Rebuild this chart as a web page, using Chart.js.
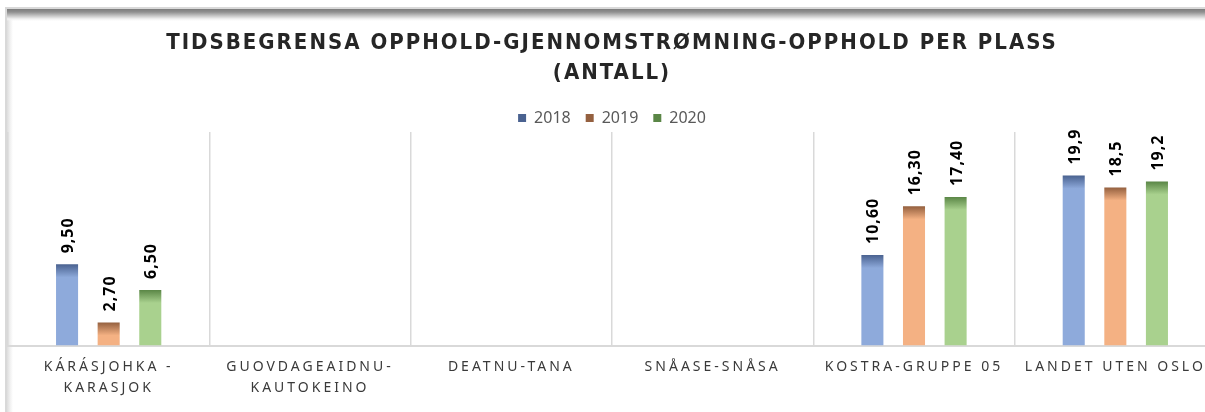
<!DOCTYPE html>
<html>
<head>
<meta charset="utf-8">
<script src="https://cdn.jsdelivr.net/npm/chart.js@4.4.0/dist/chart.umd.min.js"></script>
<style>
  html, body { margin: 0; padding: 0; background: #fff; }
  body { width: 1205px; height: 412px; overflow: hidden; position: relative; }
  #frame {
    position: absolute; left: 5px; top: 7px; width: 1260px; height: 460px;
    border-top: 2px solid #d9d9d9; border-left: 2px solid #d9d9d9;
    background:
      linear-gradient(to bottom, #7d7d7d 0, #8f8f8f 3px, #c8c8c8 7px, #f2f2f2 10px, rgba(255,255,255,0) 12px) left top / 100% 12px no-repeat,
      linear-gradient(to right, #dddddd 0, #f0f0f0 3px, rgba(255,255,255,0) 6px) left top / 7px 100% no-repeat;
  }
  #chart { position: absolute; left: 0; top: 0; }
</style>
</head>
<body>
<div id="frame"></div>
<canvas id="chart" width="1222" height="412"></canvas>
<script>
(function() {
  'use strict';
  // categories (municipalities)
  const categories = [
    ['KÁRÁSJOHKA -', 'KARASJOK'],
    ['GUOVDAGEAIDNU-', 'KAUTOKEINO'],
    'DEATNU-TANA',
    'SNÅASE-SNÅSA',
    'KOSTRA-GRUPPE 05',
    'LANDET UTEN OSLO'
  ];
  // series values per year
  const years = ['2018', '2019', '2020'];
  const values2018 = [9.5, null, null, null, 10.6, 19.9];
  const values2019 = [2.7, null, null, null, 16.3, 18.5];
  const values2020 = [6.5, null, null, null, 17.4, 19.2];
  // decimals shown in the value labels per category
  const labelDecimals = [2, 2, 2, 2, 2, 1];
  const titleLines = ['TIDSBEGRENSA OPPHOLD-GJENNOMSTRØMNING-OPPHOLD PER PLASS', '(ANTALL)'];

  // bar colours: light body, dark top edge
  const lightColors = ['#8eaadb', '#f4b183', '#a9d18e'];
  const darkColors = ['#4a6290', '#94603f', '#5a8646'];

  const ctx = document.getElementById('chart').getContext('2d');

  // vertical gradient: dark cap at the top of every bar
  function barFill(light, dark) {
    return function(c) {
      if (c.type !== 'data' || c.raw === null || c.raw === undefined) {
        return dark;
      }
      const yScale = c.chart.scales.y;
      const top = yScale ? yScale.getPixelForValue(c.raw) : NaN;
      if (!isFinite(top)) {
        return light;
      }
      const gradient = c.chart.ctx.createLinearGradient(0, top, 0, top + 13);
      gradient.addColorStop(0, dark);
      gradient.addColorStop(1, light);
      return gradient;
    };
  }

  function formatValue(value, index) {
    return value.toFixed(labelDecimals[index]).replace('.', ',');
  }

  // letter spacing for the title and the category labels
  function wrapSpacing(target, method, spacing) {
    if (!target || target['_spaced_' + method]) {
      return;
    }
    const original = target[method];
    target[method] = function() {
      const c = this.ctx;
      c.save();
      c.letterSpacing = spacing;
      original.apply(this, arguments);
      c.restore();
    };
    target['_spaced_' + method] = true;
  }

  const spacingPlugin = {
    id: 'spacing',
    afterLayout(chart) {
      wrapSpacing(chart.titleBlock, 'draw', '2px');
      wrapSpacing(chart.scales.x, 'drawLabels', '3px');
    }
  };

  // rotated value labels above the bars
  const valueLabelPlugin = {
    id: 'valueLabels',
    afterDatasetsDraw(chart) {
      const c = chart.ctx;
      chart.data.datasets.forEach(function(dataset, di) {
        const meta = chart.getDatasetMeta(di);
        meta.data.forEach(function(bar, i) {
          const value = dataset.data[i];
          if (value === null) {
            return;
          }
          c.save();
          c.translate(bar.x, bar.y - 11);
          c.rotate(-Math.PI / 2);
          c.letterSpacing = '1px';
          c.font = 'bold 16px "Noto Sans", sans-serif';
          c.fillStyle = '#000';
          c.textAlign = 'left';
          c.textBaseline = 'middle';
          c.fillText(formatValue(value, i), 0, 1.5);
          c.restore();
        });
      });
    }
  };

  const seriesValues = [values2018, values2019, values2020];

  new Chart(ctx, {
    type: 'bar',
    data: {
      labels: categories,
      datasets: years.map(function(year, i) {
        return {
          label: year,
          data: seriesValues[i],
          backgroundColor: barFill(lightColors[i], darkColors[i]),
          borderWidth: 0,
          categoryPercentage: 0.62,
          barPercentage: 0.53
        };
      })
    },
    options: {
      responsive: false,
      animation: false,
      events: [],
      layout: {
        padding: { left: 8, right: 6, top: 0, bottom: 1.5 }
      },
      scales: {
        x: {
          offset: true,
          grid: {
            offset: true,
            color: '#d9d9d9',
            lineWidth: 1.5,
            drawTicks: false
          },
          border: { color: '#d9d9d9', width: 2 },
          ticks: {
            autoSkip: false,
            maxRotation: 0,
            minRotation: 0,
            padding: 11.5,
            color: '#3a3a3a',
            font: { family: '"Noto Sans", sans-serif', size: 14, lineHeight: '21px' }
          }
        },
        y: {
          display: false,
          min: 0,
          max: 25
        }
      },
      plugins: {
        title: {
          display: true,
          text: titleLines,
          color: '#262626',
          padding: { top: 28, bottom: 7 },
          font: { family: '"Liberation Sans Narrow", "DejaVu Sans Condensed", "Noto Sans", sans-serif', size: 22, weight: 'bold', lineHeight: '30px' }
        },
        legend: {
          display: true,
          position: 'top',
          maxHeight: 37,
          labels: {
            boxWidth: 8,
            boxHeight: 8,
            padding: 15,
            color: '#595959',
            font: { family: '"Noto Sans", sans-serif', size: 16 }
          }
        },
        tooltip: { enabled: false }
      }
    },
    plugins: [spacingPlugin, valueLabelPlugin]
  });
})();
</script>
</body>
</html>
